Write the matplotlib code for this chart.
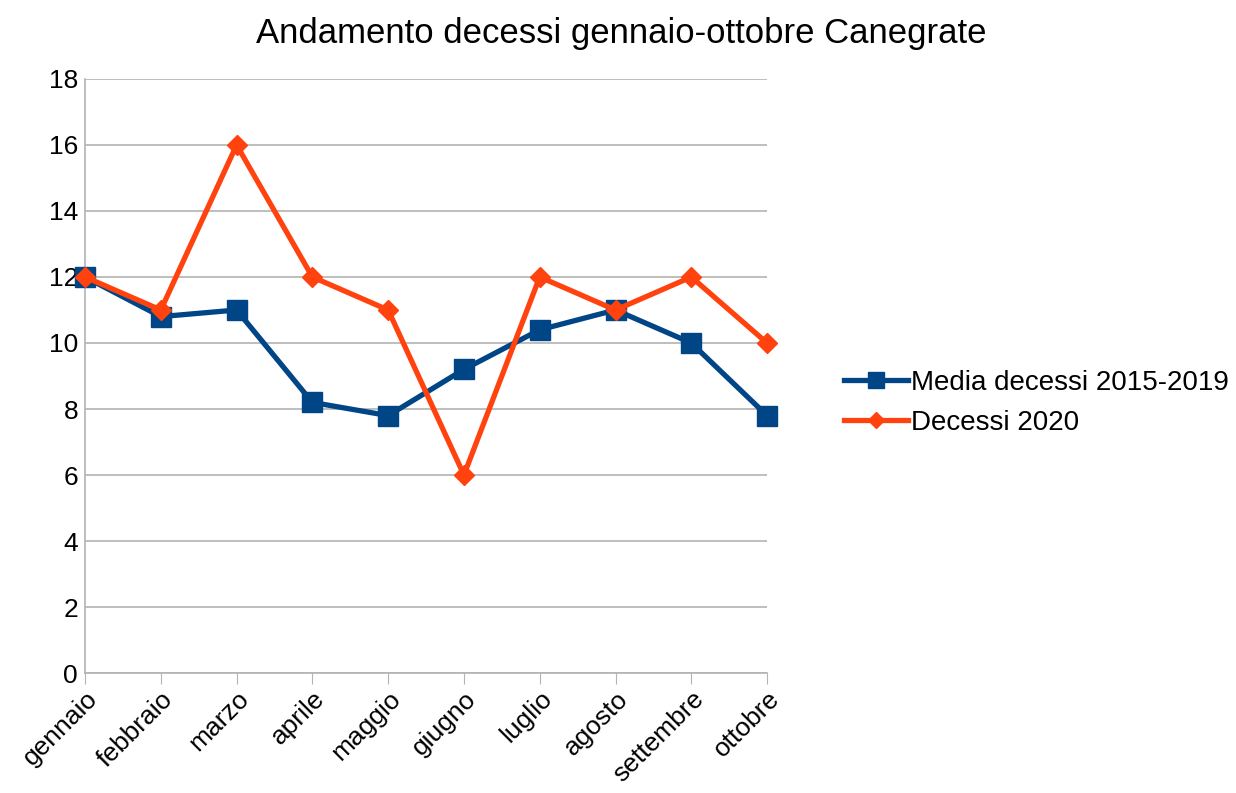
import matplotlib.pyplot as plt
import numpy as np

plt.rcParams['font.family'] = ['Liberation Sans', 'DejaVu Sans']

mesi = ['gennaio', 'febbraio', 'marzo', 'aprile', 'maggio', 'giugno',
        'luglio', 'agosto', 'settembre', 'ottobre']
media_2015_2019 = [12, 10.8, 11, 8.2, 7.8, 9.2, 10.4, 11, 10, 7.8]
decessi_2020 = [12, 11, 16, 12, 11, 6, 12, 11, 12, 10]

fig = plt.figure(figsize=(12.36, 7.93), dpi=100)
ax = fig.add_axes([0.0688, 0.1513, 0.5518, 0.7491])

x = np.arange(len(mesi))
ax.plot(x, media_2015_2019, color='#004586', lw=3.8, marker='s', ms=14,
        label='Media decessi 2015-2019', zorder=3)
ax.plot(x, decessi_2020, color='#ff420e', lw=3.8, marker='D', ms=10,
        label='Decessi 2020', zorder=4)

ax.set_xlim(0, len(mesi) - 1)
ax.set_ylim(0, 18)
ax.set_yticks(range(0, 19, 2))
ax.set_xticks(x)
ax.set_xticklabels(mesi, rotation=45, ha='right', rotation_mode='anchor')
ax.tick_params(axis='x', length=8, color='#b3b3b3', labelsize=19, pad=2)
ax.tick_params(axis='y', length=0, labelsize=19, pad=5)
ax.grid(axis='y', color='#b3b3b3', lw=1.2)
ax.set_axisbelow(True)
for s in ['top', 'right']:
    ax.spines[s].set_visible(False)
ax.spines['left'].set_color('#b3b3b3')
ax.spines['bottom'].set_color('#b3b3b3')
ax.spines['left'].set_linewidth(1.2)
ax.spines['bottom'].set_linewidth(1.2)
for l in ax.lines:
    l.set_clip_on(False)

fig.text(0.503, 0.958, 'Andamento decessi gennaio-ottobre Canegrate',
         ha='center', va='center', fontsize=25)
fig.legend(loc='center left', bbox_to_anchor=(0.663, 0.492), frameon=False,
           fontsize=20, handlelength=2.3, handletextpad=0.1, labelspacing=0.5,
           markerscale=0.8)

fig.savefig('out.png', dpi=100)
